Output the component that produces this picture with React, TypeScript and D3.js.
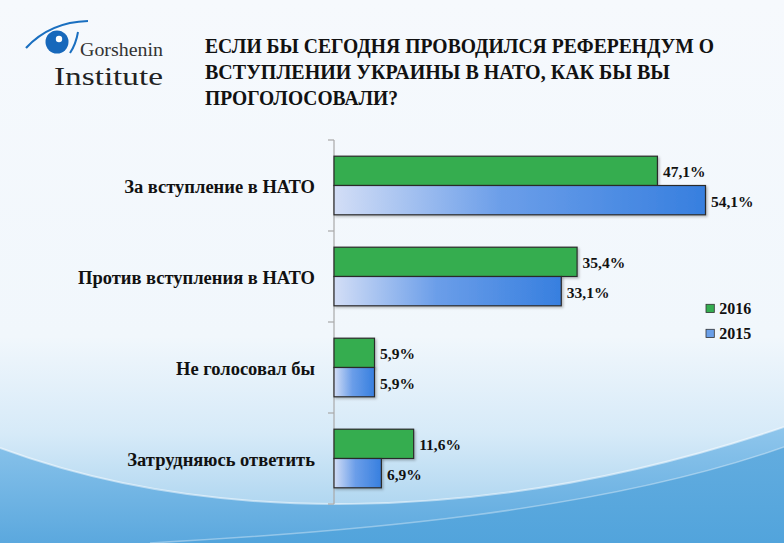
import React from "react";
import * as d3 from "d3";

const categories = [
  "За вступление в НАТО",
  "Против вступления в НАТО",
  "Не голосовал бы",
  "Затрудняюсь ответить",
];
const seriesNames = ["2016", "2015"];
const values2016 = [47.1, 35.4, 5.9, 11.6];
const values2015 = [54.1, 33.1, 5.9, 6.9];
const titleLines = [
  "ЕСЛИ БЫ СЕГОДНЯ ПРОВОДИЛСЯ РЕФЕРЕНДУМ О",
  "ВСТУПЛЕНИИ УКРАИНЫ В НАТО, КАК БЫ ВЫ",
  "ПРОГОЛОСОВАЛИ?",
];

const W = 784;
const H = 543;
const font = "'Liberation Serif', serif";
const titleWidths = [509, 465, 193];

export default function App() {
  const x = d3.scaleLinear().domain([0, 60]).range([334, 746]);
  const y = d3
    .scaleBand<string>()
    .domain(categories)
    .range([140, 504])
    .paddingInner(0.356)
    .paddingOuter(0.178);
  const ySub = d3
    .scaleBand<string>()
    .domain(seriesNames)
    .range([0, y.bandwidth()]);
  const seriesValues: Record<string, number[]> = {
    "2016": values2016,
    "2015": values2015,
  };
  const fills: Record<string, string> = {
    "2016": "#34ad50",
    "2015": "url(#blueGrad)",
  };
  const legendFills: Record<string, string> = {
    "2016": "#34ad50",
    "2015": "#6a9fe8",
  };
  const step = y.step();
  const axisTicks = d3.range(categories.length + 1).map((i) => 140 + i * step);

  return (
    <div style={{ position: "absolute", left: 0, top: 0, width: W, height: H }}>
      <svg width={W} height={H} viewBox={`0 0 ${W} ${H}`} style={{ display: "block" }}>
        <defs>
          <linearGradient id="bg" x1="0" y1="0" x2="0" y2="1">
            <stop offset="0" stopColor="#f6f9fd" />
            <stop offset="0.62" stopColor="#f1f7fc" />
            <stop offset="0.8" stopColor="#d6eaf8" />
            <stop offset="0.92" stopColor="#b3d8f1" />
            <stop offset="1" stopColor="#9fcdee" />
          </linearGradient>
          <linearGradient id="wave1" x1="0" y1="0" x2="0" y2="1">
            <stop offset="0" stopColor="#8fc6ec" />
            <stop offset="1" stopColor="#5ba8de" />
          </linearGradient>
          <linearGradient id="wave2" x1="0" y1="0" x2="0" y2="1">
            <stop offset="0" stopColor="#62acdf" />
            <stop offset="1" stopColor="#52a4dc" />
          </linearGradient>
          <linearGradient id="blueGrad" x1="0" y1="0" x2="1" y2="0">
            <stop offset="0" stopColor="#d3def6" />
            <stop offset="0.45" stopColor="#6b9ee9" />
            <stop offset="1" stopColor="#377fdf" />
          </linearGradient>
          <filter id="shadow" x="-10%" y="-20%" width="130%" height="150%">
            <feDropShadow dx="1.5" dy="1.5" stdDeviation="1.2" floodColor="#000" floodOpacity="0.25" />
          </filter>
        </defs>

        {/* background */}
        <rect x={0} y={0} width={W} height={H} fill="url(#bg)" />
        <path d="M0,448 C200,522 480,530 784,427 L784,543 L0,543 Z" fill="url(#wave1)" />
        <path d="M150,543 C350,532 600,512 784,447 L784,543 Z" fill="url(#wave2)" />
        <path d="M0,448 C200,522 480,530 784,427" fill="none" stroke="#ffffff" strokeOpacity={0.5} strokeWidth={2} />
        <path d="M150,543 C350,532 600,512 784,447" fill="none" stroke="#ffffff" strokeOpacity={0.35} strokeWidth={1.5} />

        {/* logo */}
        <path d="M26,48 Q50,22 88,21" fill="none" stroke="#1a6fc0" strokeWidth={2.2} />
        <circle cx={57} cy={42} r={11.5} fill="#1768bb" />
        <circle cx={59} cy={39} r={3.2} fill="#ffffff" />
        <path d="M78,32 Q76,44 70,53" fill="none" stroke="#1a6fc0" strokeWidth={2} />
        <text x={80} y={56} fontFamily={font} fontSize={18} textLength={83} lengthAdjust="spacingAndGlyphs" fill="#333">Gorshenin</text>
        <text x={54} y={85} fontFamily={font} fontSize={26} textLength={109} lengthAdjust="spacingAndGlyphs" fill="#222">Institute</text>

        {/* title */}
        {titleLines.map((t, i) => (
          <text
            key={i}
            x={205}
            y={53.3 + i * 25.9}
            fontFamily={font}
            fontWeight="bold"
            fontSize={22}
            textLength={titleWidths[i]}
            lengthAdjust="spacingAndGlyphs"
            fill="#111"
          >
            {t}
          </text>
        ))}

        {/* axis */}
        <line x1={334} x2={334} y1={140} y2={504} stroke="#a8a8a8" strokeWidth={1.2} />
        {axisTicks.map((t, i) => (
          <line key={i} x1={328} x2={334} y1={t} y2={t} stroke="#a8a8a8" strokeWidth={1.2} />
        ))}

        {/* category labels */}
        {categories.map((c) => (
          <text
            key={c}
            x={315}
            y={(y(c) as number) + y.bandwidth() / 2 + 7}
            textAnchor="end"
            fontFamily={font}
            fontWeight="bold"
            fontSize={18.5}
            fill="#111"
          >
            {c}
          </text>
        ))}

        {/* bars */}
        {categories.map((c, ci) =>
          seriesNames.map((s) => {
            const v = seriesValues[s][ci];
            const by = (y(c) as number) + (ySub(s) as number);
            const bh = ySub.bandwidth();
            return (
              <g key={c + s}>
                <rect
                  x={x(0)}
                  y={by}
                  width={x(v) - x(0)}
                  height={bh}
                  fill={fills[s]}
                  stroke="#2b2b2b"
                  strokeWidth={1.2}
                  filter="url(#shadow)"
                />
                <text
                  x={x(v) + 5.5}
                  y={by + bh / 2 + 6.5}
                  fontFamily={font}
                  fontWeight="bold"
                  fontSize={15.5}
                  fill="#111"
                >
                  {d3.format(".1f")(v).replace(".", ",") + "%"}
                </text>
              </g>
            );
          })
        )}

        {/* legend */}
        {seriesNames.map((s, i) => (
          <g key={s} transform={`translate(706, ${304.3 + i * 25})`}>
            <rect x={0} y={0} width={8.3} height={8.3} fill={legendFills[s]} stroke="#333" strokeWidth={0.8} />
            <text x={13.3} y={9.7} fontFamily={font} fontWeight="bold" fontSize={16} fill="#111">
              {s}
            </text>
          </g>
        ))}
      </svg>
    </div>
  );
}
